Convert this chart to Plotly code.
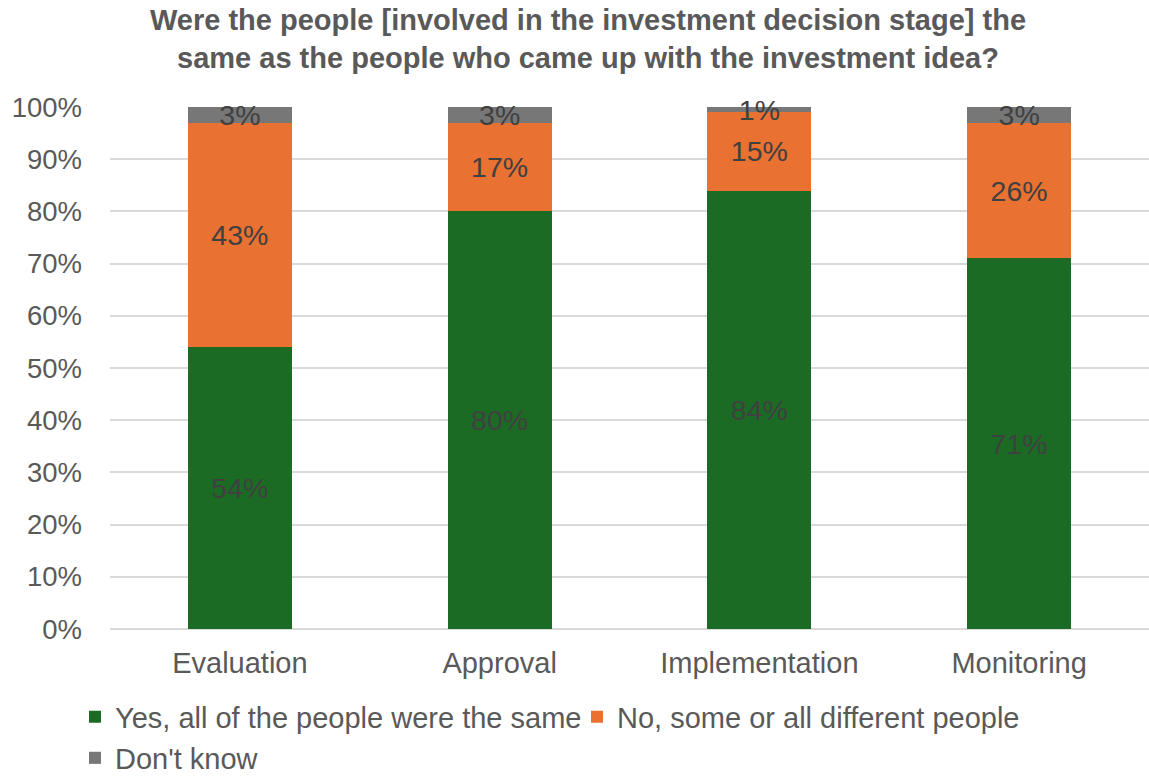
import plotly.graph_objects as go

# Survey results by investment stage (percent of respondents)
stages = ["Evaluation", "Approval", "Implementation", "Monitoring"]
yes_same = [54, 80, 84, 71]
no_different = [43, 17, 15, 26]
dont_know = [3, 3, 1, 3]

series_names = [
    "Yes, all of the people were the same",
    "No, some or all different people",
    "Don't know",
]
series_colors = ["#1b6b24", "#e97132", "#777777"]
y_ticks = [0, 10, 20, 30, 40, 50, 60, 70, 80, 90, 100]

FONT = "Liberation Sans, Arial, sans-serif"
TEXT_GREY = "#595959"
LABEL_GREY = "#404040"

fig = go.Figure()
legend_ids = ["legend", "legend2", "legend3"]
for name, vals, color, lg in zip(series_names, [yes_same, no_different, dont_know],
                                 series_colors, legend_ids):
    fig.add_trace(go.Bar(
        x=stages,
        y=vals,
        name=name,
        marker=dict(color=color, line=dict(width=0)),
        text=[f"{v}%" for v in vals],
        textposition="inside",
        insidetextanchor="middle",
        constraintext="none",
        textangle=0,
        textfont=dict(family=FONT, size=28.5, color=LABEL_GREY),
        cliponaxis=False,
        legend=lg,
        width=0.4,
    ))

legend_common = dict(
    orientation="h",
    font=dict(family=FONT, size=29, color=TEXT_GREY),
    bgcolor="rgba(0,0,0,0)",
    xanchor="left",
    yanchor="middle",
    itemclick=False,
    itemdoubleclick=False,
)

fig.update_layout(
    width=1149,
    height=780,
    barmode="stack",
    plot_bgcolor="white",
    paper_bgcolor="white",
    margin=dict(l=110, r=0, t=107, b=151, autoexpand=False),
    font=dict(family=FONT, color=TEXT_GREY),
    title=dict(
        text="Were the people [involved in the investment decision stage] the<br>"
             "same as the people who came up with the investment idea?",
        x=588 / 1149,
        xanchor="center",
        xref="container",
        y=1 - 30 / 780,
        yanchor="middle",
        yref="container",
        font=dict(family=FONT, size=29, color=TEXT_GREY, weight="bold"),
    ),
    xaxis=dict(
        showgrid=False,
        showline=False,
        tickfont=dict(family=FONT, size=29, color=TEXT_GREY),
        ticks="",
        ticklabelstandoff=14,
    ),
    yaxis=dict(
        range=[0, 100],
        tickvals=y_ticks,
        ticktext=[f"{t}%" for t in y_ticks],
        tickfont=dict(family=FONT, size=27.5, color=TEXT_GREY),
        showgrid=True,
        gridcolor="#d9d9d9",
        gridwidth=2,
        zeroline=True,
        zerolinecolor="#d9d9d9",
        zerolinewidth=2,
        showline=False,
        ticks="",
        ticklabelstandoff=27,
    ),
    legend=dict(legend_common, x=(75 - 110) / 1039, y=-(717 - 629) / 522),
    legend2=dict(legend_common, x=(577 - 110) / 1039, y=-(717 - 629) / 522),
    legend3=dict(legend_common, x=(75 - 110) / 1039, y=-(758 - 629) / 522),
    showlegend=True,
)

fig.write_html("out.html")
